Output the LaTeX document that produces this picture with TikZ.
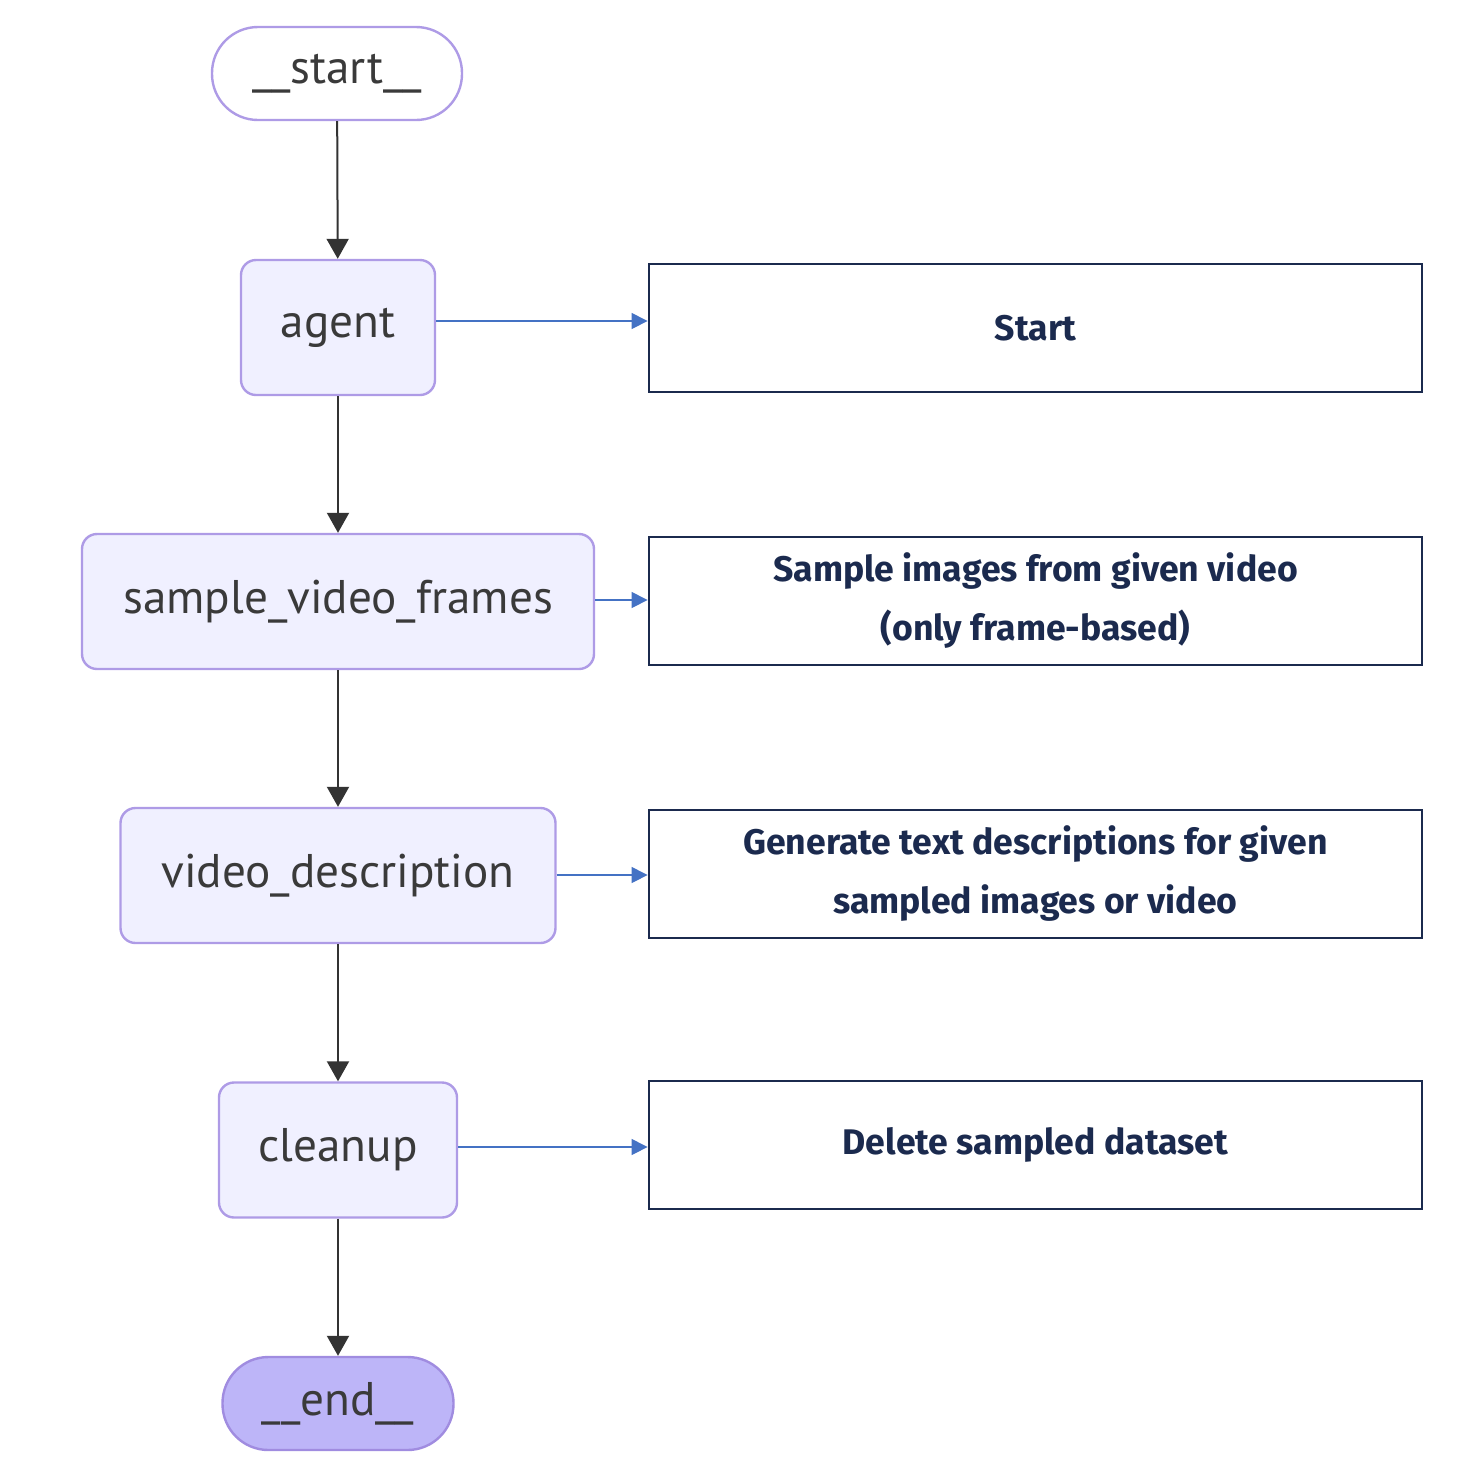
\documentclass[tikz,border=0pt]{standalone}
\usepackage{fontspec}
\setmainfont{PT Sans}
\newfontfamily\handfont{Fira Sans}
\usetikzlibrary{arrows.meta}
\definecolor{nodefill}{HTML}{F0F0FF}
\definecolor{nodeborder}{HTML}{AE9BE6}
\definecolor{endfill}{HTML}{BDB5F8}
\definecolor{endborder}{HTML}{A08CE0}
\definecolor{nodetext}{HTML}{3A3A3A}
\definecolor{edgecol}{HTML}{333333}
\definecolor{navy}{HTML}{1B2A4E}
\definecolor{bluearrow}{HTML}{4472C4}
\tikzset{
  flownode/.style={draw=nodeborder, line width=1.2pt, fill=nodefill, rounded corners=7.5pt,
    minimum height=67.5pt, inner sep=0pt, text=nodetext, font=\fontsize{23.6}{28}\selectfont},
  termnode/.style={draw=nodeborder, line width=1.2pt, fill=white, rounded corners=23pt,
    minimum height=46.5pt, minimum width=125pt, inner sep=0pt, text=nodetext, font=\fontsize{23.6}{28}\selectfont},
  notebox/.style={draw=navy, line width=1.4pt, fill=white, minimum width=386.5pt, minimum height=64pt,
    inner sep=0pt, align=center, text=navy, font=\handfont\bfseries\fontsize{17.8}{29.5}\selectfont},
  flowedge/.style={draw=edgecol, line width=1pt, -{Triangle[length=10pt,width=11pt]}},
  noteedge/.style={draw=bluearrow, line width=0.6pt, -{Triangle[length=8pt,width=8pt]}}
}
\begin{document}
\begin{tikzpicture}[x=0.5pt,y=-0.5pt]
\useasboundingbox (0,0) rectangle (1474,1474);
\node[termnode] (start) at (337,73.5) {\_\_start\_\_};
\node[flownode, minimum width=97pt] (agent) at (338,327.5) {agent};
\node[flownode, minimum width=256pt] (svf) at (338,601.5) {sample\_video\_frames};
\node[flownode, minimum width=217.5pt] (vd) at (338,875.5) {video\_description};
\node[flownode, minimum width=119pt] (clean) at (338,1150) {cleanup};
\node[termnode, fill=endfill, draw=endborder, minimum width=115.5pt] (end) at (338,1403.5) {\_\_end\_\_};

\node[notebox] (n1) at (1035.5,328) {Start};
\node[notebox] (n2) at (1035.5,601) {Sample images from given video\\(only frame-based)};
\node[notebox] (n3) at (1035.5,874) {Generate text descriptions for given\\sampled images or video};
\node[notebox] (n4) at (1035.5,1145) {Delete sampled dataset};

\draw[flowedge] (start) -- (agent);
\draw[flowedge] (agent) -- (svf);
\draw[flowedge] (svf) -- (vd);
\draw[flowedge] (vd) -- (clean);
\draw[flowedge] (clean) -- (end);

\draw[noteedge] (agent.east |- 0,321) -- (n1.west |- 0,321);
\draw[noteedge] (svf.east |- 0,600) -- (n2.west |- 0,600);
\draw[noteedge] (vd.east |- 0,875) -- (n3.west |- 0,875);
\draw[noteedge] (clean.east |- 0,1147) -- (n4.west |- 0,1147);
\end{tikzpicture}
\end{document}
